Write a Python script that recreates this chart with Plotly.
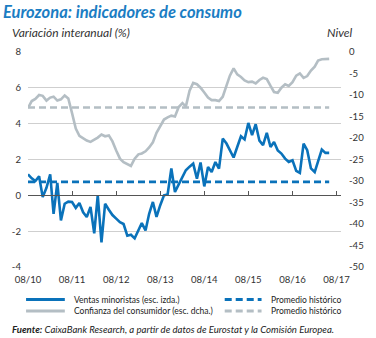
import pandas as pd
import plotly.graph_objects as go

W, H = 376, 338
ML, MR, MT, MB = 22, 31, 52, 71
PW, PH = W - ML - MR, H - MT - MB

# ---- data -------------------------------------------------------------
start_month = "2010-08-01"
retail_sales = [
    1.17, 0.95, 0.80, 1.06, -0.10, 0.42, 1.17, -1.03, 0.70, -1.40,
    -0.47, -0.35, -0.37, -0.70, -0.43, -0.95, -1.21, -0.65, -2.12, 0.00,
    -2.62, -0.47, -0.80, -1.10, -1.30, -1.50, -1.60, -2.25, -2.20, -2.40,
    -1.95, -1.55, -1.96, -1.03, -0.37, -1.20, -0.55, 0.00, 0.05, 1.50,
    0.19, 0.60, 1.10, 1.40, 1.60, 1.77, 0.93, 1.83, 0.50, 1.58,
    1.30, 1.86, 1.49, 3.17, 2.89, 2.50, 2.11, 2.70, 3.30, 3.12,
    4.04, 3.36, 3.97, 3.05, 2.80, 3.49, 2.70, 2.98, 2.50, 2.33,
    2.05, 1.86, 1.96, 1.36, 1.25, 2.89, 2.52, 1.50, 1.30, 1.90,
    2.55, 2.37, 2.37,
]
consumer_confidence = [
    -13.0, -11.4, -10.9, -10.0, -10.2, -11.3, -10.6, -10.4, -11.3, -11.0,
    -10.1, -10.8, -14.2, -17.8, -19.5, -20.1, -20.6, -20.9, -20.4, -19.9,
    -19.2, -19.6, -19.4, -20.8, -22.9, -24.8, -25.6, -26.0, -26.5, -24.8,
    -23.8, -23.6, -23.1, -22.2, -21.0, -18.8, -17.1, -15.7, -15.2, -14.8,
    -15.0, -12.8, -11.9, -12.7, -9.0, -7.2, -7.5, -8.3, -9.4, -10.6,
    -11.2, -11.2, -11.4, -10.4, -7.8, -5.5, -3.8, -5.2, -5.8, -6.6,
    -7.0, -6.9, -7.3, -6.5, -6.0, -6.3, -7.9, -9.3, -9.5, -8.3,
    -7.5, -7.9, -7.0, -5.5, -5.0, -6.0, -5.6, -4.3, -3.4, -2.0,
    -1.7, -1.6, -1.6,
]
retail_avg = 0.75
confidence_avg = -12.9

left_ticks = [8, 6, 4, 2, 0, -2, -4]
right_ticks = [0, -5, -10, -15, -20, -25, -30, -35, -40, -45, -50]
x_tick_labels = ["08/10", "08/11", "08/12", "08/13", "08/14", "08/15", "08/16", "08/17"]

title = "Eurozona: indicadores de consumo"
left_title = "Variación interanual (%)"
right_title = "Nivel"
legend_labels = ["Ventas minoristas (esc. izda.)", "Confianza del consumidor (esc. dcha.)",
                 "Promedio histórico", "Promedio histórico"]
source = "CaixaBank Research, a partir de datos de Eurostat y la Comisión Europea."

# ---- styles -----------------------------------------------------------
BLUE = "#0a72ba"
GRAY = "#b4bec4"
TITLE_BLUE = "#1b7dc3"
TXT = "#333333"
FONT = "Lato"

months = pd.date_range(start_month, periods=len(retail_sales), freq="MS")
tick_dates = pd.to_datetime(["20%s-08-01" % t[-2:] for t in x_tick_labels])
x_range = [months[0], pd.Timestamp("2017-09-07")]


def px_x(p):
    return (p - ML) / PW


def px_y(p):
    return (H - MB - p) / PH


fig = go.Figure()
fig.add_trace(go.Scatter(x=months, y=consumer_confidence, yaxis="y2", mode="lines",
                         line=dict(color=GRAY, width=2.6), showlegend=False,
                         name=legend_labels[1]))
fig.add_trace(go.Scatter(x=[months[0], months[-1]], y=[confidence_avg] * 2, yaxis="y2",
                         mode="lines", line=dict(color=GRAY, width=2.6, dash="7px,4px"),
                         showlegend=False, name=legend_labels[3]))
fig.add_trace(go.Scatter(x=[months[0], months[-1]], y=[retail_avg] * 2, xaxis="x2",
                         mode="lines", line=dict(color=BLUE, width=2.6, dash="7px,4px"),
                         showlegend=False, name=legend_labels[2]))
fig.add_trace(go.Scatter(x=months, y=retail_sales, mode="lines",
                         line=dict(color=BLUE, width=2.6), showlegend=False,
                         name=legend_labels[0]))

fig.update_layout(
    width=W, height=H, margin=dict(l=ML, r=MR, t=MT, b=MB),
    paper_bgcolor="white", plot_bgcolor="white",
    font=dict(family=FONT, size=10, color=TXT),
    xaxis=dict(type="date", range=x_range, tickvals=tick_dates, ticktext=x_tick_labels,
               showgrid=False, zeroline=False, showline=False, ticks="",
               ticklabelstandoff=5, tickfont=dict(size=9.6, color=TXT)),
    xaxis2=dict(type="date", matches="x", overlaying="x", anchor="free",
                position=(0 - left_ticks[-1]) / (left_ticks[0] - left_ticks[-1]),
                tickvals=tick_dates, showticklabels=False, showgrid=False,
                zeroline=False, showline=True, linecolor="#555555", linewidth=1,
                ticks="inside", ticklen=4, tickcolor="#555555"),
    yaxis=dict(range=[left_ticks[-1], left_ticks[0]], tickvals=left_ticks,
               ticktext=[str(v) for v in left_ticks], showgrid=True,
               gridcolor="#cfcfcf", gridwidth=1, zeroline=False, showline=False,
               ticks="", ticklabelstandoff=6, tickfont=dict(size=9.6, color=TXT)),
    yaxis2=dict(range=[right_ticks[-1], right_ticks[0]], tickvals=right_ticks,
                ticktext=[str(v) for v in right_ticks], overlaying="y", side="right",
                showgrid=False, zeroline=False, showline=False, ticks="",
                ticklabelstandoff=7, tickfont=dict(size=9.6, color=TXT)),
    title=dict(text="<b><i>%s</i></b>" % title, x=3 / W, xref="container",
               xanchor="left", y=1 - 12.5 / H, yref="container", yanchor="middle",
               font=dict(family=FONT, size=16.5, color=TITLE_BLUE)),
    showlegend=False,
)

ann = [
    dict(text="<i>%s</i>" % left_title, x=px_x(3), y=px_y(32), xanchor="left",
         font=dict(size=12, color=TXT)),
    dict(text="<i>%s</i>" % right_title, x=px_x(359), y=px_y(32), xanchor="right",
         font=dict(size=12, color=TXT)),
    dict(text="<b><i>Fuente:</i></b><i> %s</i>" % source, x=px_x(3), y=px_y(329),
         xanchor="left", font=dict(size=9.6, color="#222222")),
]
legend_rows = [(299.5, BLUE, legend_labels[0], legend_labels[2]),
               (311, GRAY, legend_labels[1], legend_labels[3])]
shapes = []
for yy, col, lab1, lab2 in legend_rows:
    shapes.append(dict(type="line", xref="paper", yref="paper", x0=px_x(20), x1=px_x(60),
                       y0=px_y(yy), y1=px_y(yy), line=dict(color=col, width=3)))
    shapes.append(dict(type="line", xref="paper", yref="paper", x0=px_x(225), x1=px_x(263),
                       y0=px_y(yy), y1=px_y(yy), line=dict(color=col, width=3, dash="7px,4px")))
    ann.append(dict(text=lab1, x=px_x(67), y=px_y(yy), xanchor="left",
                    font=dict(size=8.5, color="#222222")))
    ann.append(dict(text=lab2, x=px_x(271), y=px_y(yy), xanchor="left",
                    font=dict(size=8.5, color="#222222")))

for a in ann:
    a.update(xref="paper", yref="paper", yanchor="middle", showarrow=False)
fig.update_layout(annotations=ann, shapes=shapes)

fig.write_html("out.html")
